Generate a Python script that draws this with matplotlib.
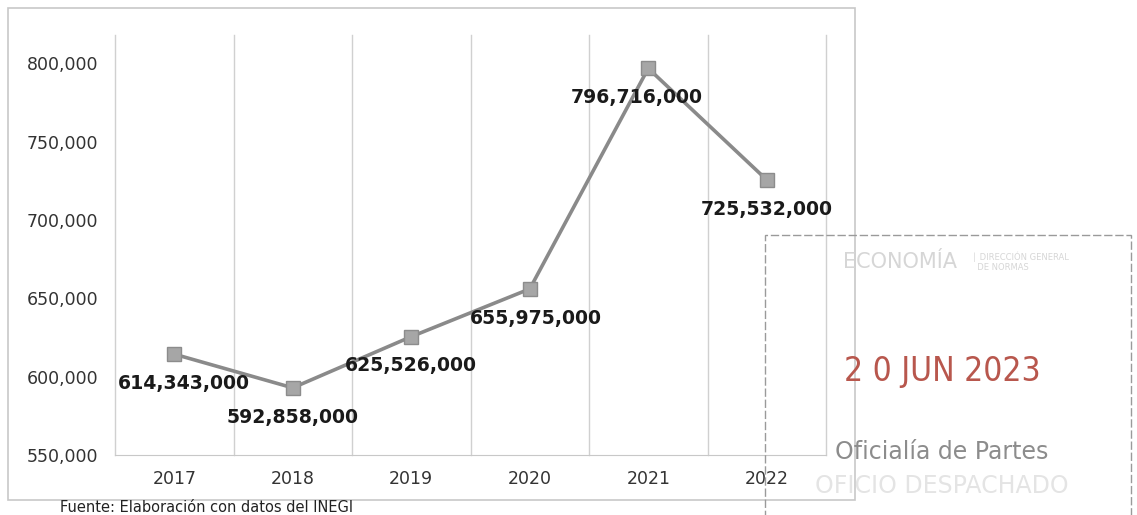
import matplotlib.pyplot as plt
from matplotlib.patches import Rectangle
from matplotlib.ticker import FuncFormatter

# data (thousands on the axis, full value in the labels)
years = ['2017', '2018', '2019', '2020', '2021', '2022']
values = [614343, 592858, 625526, 655975, 796716, 725532]
point_labels = ['614,343,000', '592,858,000', '625,526,000',
                '655,975,000', '796,716,000', '725,532,000']
label_dx = [10, 0, 0, 6, -12, 0]   # small horizontal nudges, px
y_ticks = [550000, 600000, 650000, 700000, 750000, 800000]

fig = plt.figure(figsize=(11.37, 5.15), dpi=100)
W, H = 1137, 515

# outer chart frame
fig.add_artist(Rectangle((8 / W, 1 - 500 / H), 847 / W, 492 / H,
                         transform=fig.transFigure, fill=False,
                         edgecolor='#c8c8c8', lw=1.2))

ax = fig.add_axes([115 / W, 60 / H, 711 / W, 420 / H])
x = list(range(len(years)))
ax.plot(x, values, color='#8a8a8a', lw=2.6, marker='s', markersize=10,
        markerfacecolor='#a6a6a6', markeredgecolor='#8c8c8c', zorder=3)

for xi, v, lab, dx in zip(x, values, point_labels, label_dx):
    ax.annotate(lab, (xi, v), xytext=(dx * 0.72, -21), textcoords='offset points',
                ha='center', va='center', fontsize=13.6, fontweight='bold',
                color='#1a1a1a', zorder=4)

ax.set_xlim(-0.5, len(years) - 0.5)
ax.set_ylim(550000, 818000)
ax.set_xticks(x)
ax.set_xticklabels(years)
ax.set_yticks(y_ticks)
ax.yaxis.set_major_formatter(FuncFormatter(lambda v, p: f'{int(v):,}'))
ax.tick_params(axis='both', length=0, labelsize=12.5, colors='#333333')
ax.tick_params(axis='x', pad=11)
ax.tick_params(axis='y', pad=12)

# vertical separators between categories
for b in range(len(years) + 1):
    ax.axvline(b - 0.5, color='#d0d0d0', lw=1, zorder=1, clip_on=False)
for s in ['top', 'right', 'left']:
    ax.spines[s].set_visible(False)
ax.spines['bottom'].set_color('#c8c8c8')

# received stamp overlapping the chart corner
fig.add_artist(Rectangle((765 / W, 1 - 530 / H), 366 / W, 295 / H,
                         transform=fig.transFigure, fill=False,
                         edgecolor='#9a9a9a', lw=1.0, linestyle=(0, (6, 2))))
fig.text(900 / W, 1 - 262 / H, 'ECONOMÍA', fontsize=15, color='#d6d6d6',
         ha='center', va='center')
fig.text(972 / W, 1 - 262 / H, '│ DIRECCIÓN GENERAL\n  DE NORMAS', fontsize=6,
         color='#d6d6d6', ha='left', va='center')
fig.text(942 / W, 1 - 372 / H, '2 0 JUN 2023', fontsize=24, color='#b8574d',
         ha='center', va='center', family='Liberation Sans Narrow', stretch='condensed')
fig.text(942 / W, 1 - 452 / H, 'Oficialía de Partes', fontsize=17, color='#8c8c8c',
         ha='center', va='center')
fig.text(942 / W, 1 - 486 / H, 'OFICIO DESPACHADO', fontsize=17, color='#e4e4e4',
         ha='center', va='center')

fig.text(60 / W, 0.5 / H, 'Fuente: Elaboración con datos del INEGI', fontsize=10.5,
         color='#222222', ha='left', va='bottom')

fig.savefig('out.png', dpi=100)
